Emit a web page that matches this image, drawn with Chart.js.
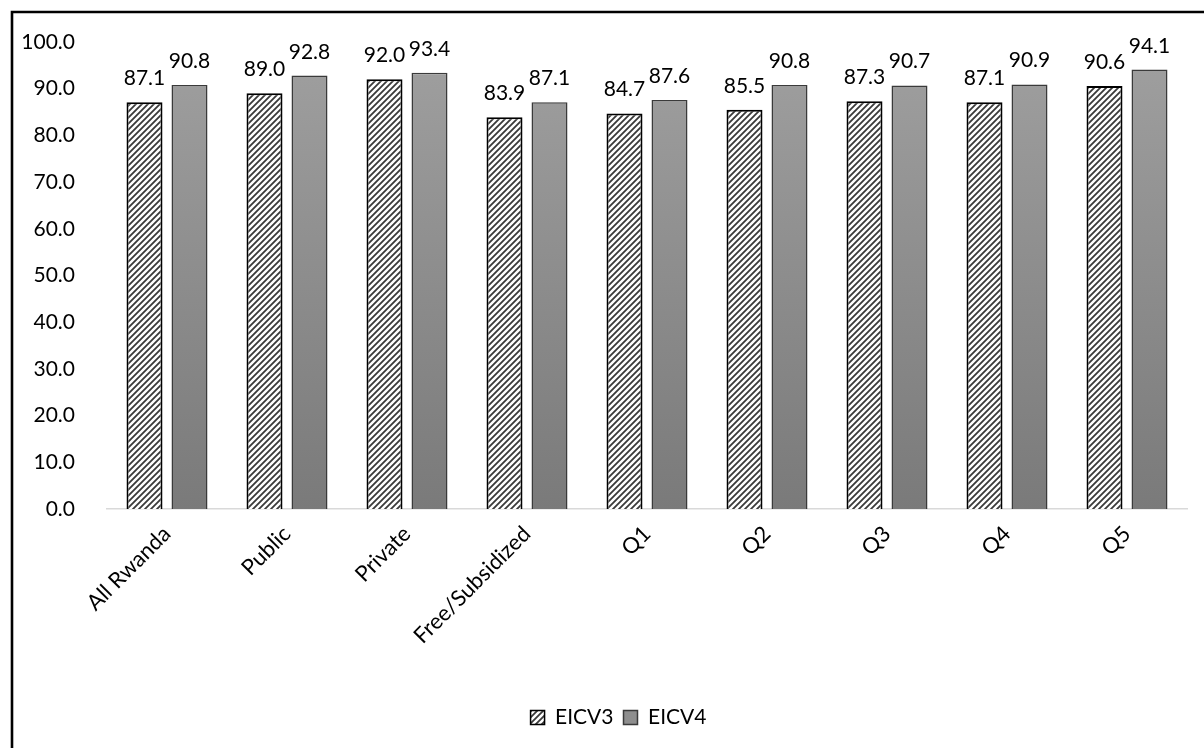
<!DOCTYPE html>
<html>
<head>
<meta charset="utf-8">
<script src="https://cdn.jsdelivr.net/npm/chart.js@4"></script>
<style>
  html, body { margin: 0; padding: 0; background: #fff; overflow: hidden; }
  #wrap { position: absolute; left: 0; top: 0; width: 1204px; height: 748px; }
</style>
</head>
<body>
<div id="wrap"><canvas id="chart" width="1204" height="748"></canvas></div>
<script>
const categories = ['All Rwanda', 'Public', 'Private', 'Free/Subsidized', 'Q1', 'Q2', 'Q3', 'Q4', 'Q5'];
const eicv3 = [87.1, 89.0, 92.0, 83.9, 84.7, 85.5, 87.3, 87.1, 90.6];
const eicv4 = [90.8, 92.8, 93.4, 87.1, 87.6, 90.8, 90.7, 90.9, 94.1];
const seriesNames = ['EICV3', 'EICV4'];

const FONT = 'Lato, "Open Sans", sans-serif';

// diagonal hatch used by the EICV3 bars
const makeHatch = () => {
    const s = 6;
    const tile = document.createElement('canvas');
    tile.width = s;
    tile.height = s;
    const c = tile.getContext('2d');
    c.fillStyle = '#fff';
    c.fillRect(0, 0, s, s);
    c.strokeStyle = '#3a3a3a';
    c.lineWidth = 1.8;
    c.beginPath();
    c.moveTo(0, s); c.lineTo(s, 0);
    c.moveTo(-1, 1); c.lineTo(1, -1);
    c.moveTo(s - 1, s + 1); c.lineTo(s + 1, s - 1);
    c.stroke();
    return c.createPattern(tile, 'repeat');
};

const ctx = document.getElementById('chart').getContext('2d');
const hatch = makeHatch();

const grayFill = (context) => {
    const area = context.chart.chartArea;
    if (!area) return '#8c8c8c';
    const g = context.chart.ctx.createLinearGradient(0, area.top, 0, area.bottom);
    g.addColorStop(0, '#a0a0a0');
    g.addColorStop(1, '#7a7a7a');
    return g;
};

const frame = {
    id: 'frame',
    beforeDraw(chart) {
        const c = chart.ctx;
        c.save();
        c.strokeStyle = '#000';
        c.lineWidth = 2.6;
        c.beginPath();
        c.moveTo(12, 760);
        c.lineTo(12, 12);
        c.lineTo(1220, 12);
        c.stroke();
        c.restore();
    }
};

// legend is centred on the framed box, not on the plot
const legendShift = {
    id: 'legendShift',
    afterLayout(chart) {
        if (chart.legend) {
            chart.legend.left += 25;
            chart.legend.right += 25;
        }
    }
};

const valueLabels = {
    id: 'valueLabels',
    afterDatasetsDraw(chart) {
        const c = chart.ctx;
        c.save();
        c.font = '21px ' + FONT;
        c.fillStyle = '#000';
        c.textAlign = 'center';
        c.textBaseline = 'alphabetic';
        chart.data.datasets.forEach((ds, i) => {
            chart.getDatasetMeta(i).data.forEach((bar, j) => {
                c.fillText(ds.data[j].toFixed(1), bar.x, bar.y - 17);
            });
        });
        c.restore();
    }
};

new Chart(ctx, {
    type: 'bar',
    data: {
        labels: categories,
        datasets: [
            {
                label: seriesNames[0],
                data: eicv3,
                backgroundColor: hatch,
                borderColor: '#000',
                borderWidth: 2,
                categoryPercentage: 0.75,
                barPercentage: 0.8
            },
            {
                label: seriesNames[1],
                data: eicv4,
                backgroundColor: grayFill,
                borderColor: '#3a3a3a',
                borderWidth: 1.5,
                categoryPercentage: 0.75,
                barPercentage: 0.8
            }
        ]
    },
    options: {
        responsive: false,
        animation: false,
        layout: { padding: { left: 0, right: 17, top: 42, bottom: 10 } },
        plugins: {
            tooltip: { enabled: false },
            legend: {
                position: 'bottom',
                labels: {
                    color: '#000',
                    font: { family: FONT, size: 21 },
                    boxWidth: 14,
                    boxHeight: 14,
                    padding: 10,
                    generateLabels(chart) {
                        const items = Chart.defaults.plugins.legend.labels.generateLabels(chart);
                        items.forEach((it, i) => {
                            it.fillStyle = i === 0 ? hatch : '#8e8e8e';
                            it.strokeStyle = i === 0 ? '#000' : '#3a3a3a';
                            it.lineWidth = 1.5;
                        });
                        return items;
                    }
                }
            }
        },
        scales: {
            x: {
                grid: { display: false },
                border: { display: true, color: '#d9d9d9', width: 1.5 },
                ticks: {
                    color: '#000',
                    font: { family: FONT, size: 22 },
                    minRotation: 45,
                    maxRotation: 45,
                    padding: 4
                },
                afterFit(scale) { scale.height = 188; }
            },
            y: {
                min: 0,
                max: 100,
                grid: { display: false },
                border: { display: false },
                ticks: {
                    stepSize: 10,
                    color: '#000',
                    font: { family: FONT, size: 21 },
                    padding: 24,
                    callback: (v) => v.toFixed(1)
                },
                afterFit(scale) { scale.width = 107; }
            }
        }
    },
    plugins: [frame, legendShift, valueLabels]
});
</script>
</body>
</html>
